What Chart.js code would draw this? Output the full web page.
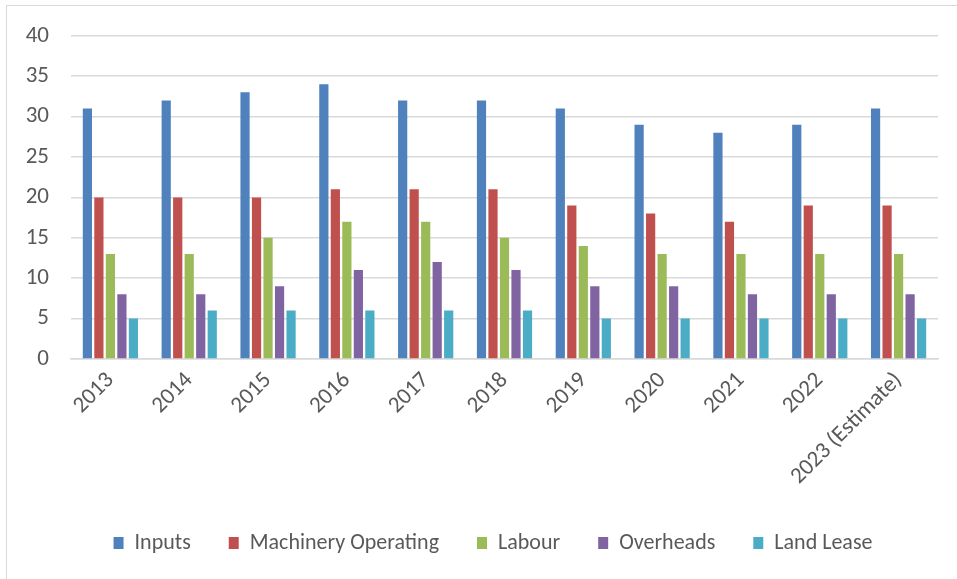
<!DOCTYPE html>
<html>
<head>
<meta charset="utf-8">
<script src="https://cdn.jsdelivr.net/npm/chart.js@4/dist/chart.umd.min.js"></script>
<style>
  html, body { margin: 0; padding: 0; background: #fff; }
  #wrap { position: relative; width: 957px; height: 579px; }
  #frame { position: absolute; left: 6px; top: 5px; width: 960px; height: 580px; border: 1px solid #d9d9d9; pointer-events: none; }
</style>
</head>
<body>
<div id="wrap">
  <canvas id="barChart" width="957" height="579"></canvas>
  <div id="frame"></div>
</div>
<script>
var years = ['2013', '2014', '2015', '2016', '2017', '2018', '2019', '2020', '2021', '2022', '2023 (Estimate)'];
var inputs = [31, 32, 33, 34, 32, 32, 31, 29, 28, 29, 31];
var machinery = [20, 20, 20, 21, 21, 21, 19, 18, 17, 19, 19];
var labour = [13, 13, 15, 17, 17, 15, 14, 13, 13, 13, 13];
var overheads = [8, 8, 9, 11, 12, 11, 9, 9, 8, 8, 8];
var landLease = [5, 6, 6, 6, 6, 6, 5, 5, 5, 5, 5];
var yTicks = [0, 5, 10, 15, 20, 25, 30, 35, 40];

var fontFamily = "Carlito, Lato, 'Liberation Sans', sans-serif";
var textColor = '#595959';

function series(label, data, color) {
  return {
    label: label,
    data: data,
    backgroundColor: color,
    borderColor: color,
    borderWidth: 0,
    categoryPercentage: 0.73,
    barPercentage: 0.8
  };
}

// legend in the original sits a bit right of the canvas centre
var legendShift = {
  id: 'legendShift',
  afterLayout: function (chart) {
    chart.legend.left += 24;
    chart.legend.right += 24;
  }
};

var ctx = document.getElementById('barChart');
var barChart = new Chart(ctx, {
  type: 'bar',
  data: {
    labels: years,
    datasets: [
      series('Inputs', inputs, '#4f81bd'),
      series('Machinery Operating', machinery, '#c0504d'),
      series('Labour', labour, '#9bbb59'),
      series('Overheads', overheads, '#8064a2'),
      series('Land Lease', landLease, '#4bacc6')
    ]
  },
  plugins: [legendShift],
  options: {
    responsive: false,
    animation: false,
    layout: {
      padding: { left: 0, right: 19, top: 34, bottom: 15 }
    },
    plugins: {
      tooltip: { enabled: false },
      legend: {
        position: 'bottom',
        labels: {
          color: textColor,
          font: { family: fontFamily, size: 22 },
          boxWidth: 10,
          boxHeight: 12,
          padding: 38
        }
      }
    },
    scales: {
      x: {
        grid: { display: false, drawTicks: false },
        border: { display: true, color: '#d9d9d9', width: 1.5 },
        ticks: {
          color: textColor,
          font: { family: fontFamily, size: 23 },
          minRotation: 45,
          maxRotation: 45,
          padding: 8
        },
        afterFit: function (scale) { scale.height = 135; }
      },
      y: {
        min: 0,
        max: 40,
        grid: { color: '#d9d9d9', lineWidth: 1.5, drawTicks: false },
        border: { display: false },
        afterBuildTicks: function (scale) {
          scale.ticks = yTicks.map(function (v) { return { value: v }; });
        },
        ticks: {
          color: textColor,
          font: { family: fontFamily, size: 23 },
          padding: 22
        },
        afterFit: function (scale) { scale.width = 71; }
      }
    }
  }
});
</script>
</body>
</html>
